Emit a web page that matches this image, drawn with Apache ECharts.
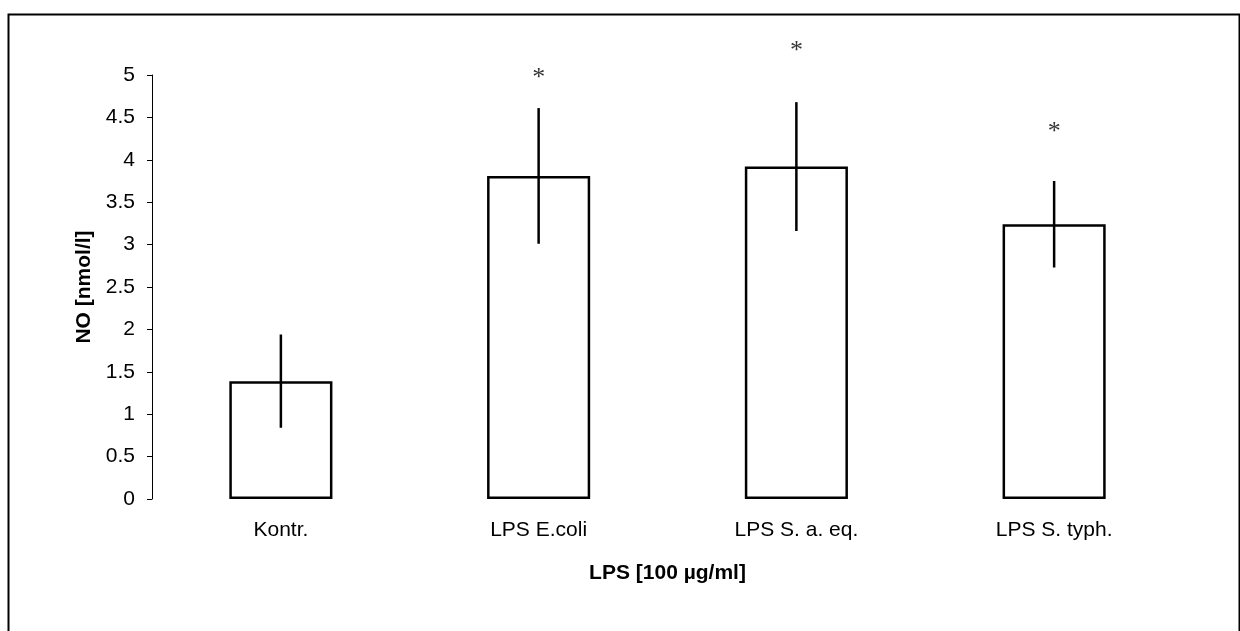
<!DOCTYPE html>
<html>
<head>
<meta charset="utf-8">
<script src="https://cdn.jsdelivr.net/npm/echarts@6/dist/echarts.min.js"></script>
<style>
html,body{margin:0;padding:0;background:#fff;}
#chart{width:1240px;height:631px;}
</style>
</head>
<body>
<div id="chart"></div>
<script>
// Data
var categories = ['Kontr.', 'LPS E.coli', 'LPS S. a. eq.', 'LPS S. typh.'];
var means = [1.39, 3.81, 3.92, 3.24];
var errors = [0.55, 0.80, 0.76, 0.51];
var starLevels = [null, 4.96, 5.28, 4.33];
var starText = ['', '*', '*', '*'];
var yTicks = { min: 0, max: 5, interval: 0.5 };
var xTitle = 'LPS [100 µg/ml]';
var yTitle = 'NO [nmol/l]';

var FONT = '"Liberation Sans", Arial, sans-serif';

var errData = means.map(function (m, i) { return [i, m - errors[i], m + errors[i]]; });
var starData = [];
for (var i = 0; i < categories.length; i++) {
  if (starLevels[i] !== null) starData.push([i, starLevels[i], starText[i]]);
}

var chart = echarts.init(document.getElementById('chart'), null, { renderer: 'canvas' });
chart.setOption({
  animation: false,
  backgroundColor: '#ffffff',
  graphic: [{
    type: 'rect',
    left: 6, top: 12,
    shape: { width: 1231, height: 640 },
    style: { fill: 'none', stroke: '#000', lineWidth: 2 },
    silent: true
  }],
  grid: { left: 152, right: 57, top: 75, bottom: 132 },
  xAxis: {
    type: 'category',
    data: categories,
    name: xTitle,
    nameLocation: 'middle',
    nameGap: 64,
    nameTextStyle: { fontFamily: FONT, fontSize: 21, fontWeight: 'bold', color: '#000' },
    axisLine: { show: false },
    axisTick: { show: false },
    axisLabel: { fontFamily: FONT, fontSize: 21, color: '#000', margin: 21 },
    splitLine: { show: false }
  },
  yAxis: {
    type: 'value',
    min: yTicks.min, max: yTicks.max, interval: yTicks.interval,
    name: yTitle,
    nameLocation: 'middle',
    nameGap: 29,
    nameRotate: 90,
    nameTextStyle: { fontFamily: FONT, fontSize: 21, fontWeight: 'bold', color: '#000' },
    axisLine: { show: true, lineStyle: { color: '#000', width: 1 } },
    axisTick: { show: true, inside: false, length: 5, lineStyle: { color: '#000', width: 1 } },
    axisLabel: { fontFamily: FONT, fontSize: 21, color: '#000', margin: 17 },
    splitLine: { show: false }
  },
  series: [
    {
      type: 'bar',
      data: means,
      barWidth: '40%',
      itemStyle: { color: '#fff', borderColor: '#000', borderWidth: 2.5 },
      z: 2
    },
    {
      type: 'custom',
      data: errData,
      z: 3,
      renderItem: function (params, api) {
        var x = api.value(0);
        var lo = api.coord([x, api.value(1)]);
        var hi = api.coord([x, api.value(2)]);
        return {
          type: 'line',
          shape: { x1: lo[0], y1: lo[1], x2: hi[0], y2: hi[1] },
          style: { stroke: '#000', lineWidth: 2.5 }
        };
      }
    },
    {
      type: 'scatter',
      data: starData,
      symbolSize: 0,
      clip: false,
      z: 4,
      label: {
        show: true,
        position: 'inside',
        formatter: function (p) { return p.data[2]; },
        fontFamily: '"Liberation Serif", "Times New Roman", serif',
        fontSize: 26,
        color: '#000'
      }
    }
  ]
});
</script>
</body>
</html>
